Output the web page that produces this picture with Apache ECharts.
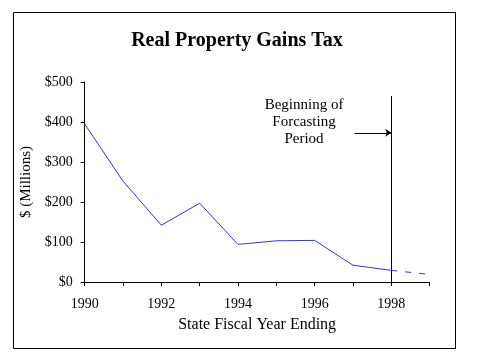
<!DOCTYPE html>
<html>
<head>
<meta charset="utf-8">
<script src="https://cdn.jsdelivr.net/npm/echarts@6/dist/echarts.min.js"></script>
<style>html,body{margin:0;padding:0;background:#fff;}#c{width:479px;height:359px;}</style>
</head>
<body>
<div id="c"></div>
<script>
var actualYears = [1990, 1991, 1992, 1993, 1994, 1995, 1996, 1997, 1998];
var actualValues = [395, 252, 142, 197, 94, 103, 104, 42, 29];
var forecastYears = [1998, 1999];
var forecastValues = [29, 19];
var yTickLabels = ['$0', '$100', '$200', '$300', '$400', '$500'];
var forecastStart = 1998;
var noteText = 'Beginning of\nForcasting\nPeriod';

var FONT = '"Liberation Serif", "Times New Roman", serif';
var chart = echarts.init(document.getElementById('c'), null, {renderer: 'canvas'});
function pairs(xs, ys) { return xs.map(function (x, i) { return [x, ys[i]]; }); }

chart.setOption({
  backgroundColor: '#fff',
  animation: false,
  title: {
    text: 'Real Property Gains Tax',
    left: 232, top: 26, textAlign: 'center',
    textStyle: {fontFamily: FONT, fontSize: 20, fontWeight: 'bold', color: '#000'}
  },
  grid: {left: 84.7, right: 49.4, top: 82, bottom: 77},
  xAxis: {
    type: 'value', min: 1990, max: 1999, interval: 1,
    name: 'State Fiscal Year Ending', nameLocation: 'middle', nameGap: 35,
    nameTextStyle: {fontFamily: FONT, fontSize: 16, color: '#000'},
    axisLine: {lineStyle: {color: '#000', width: 1}},
    axisTick: {show: true, length: 4, lineStyle: {color: '#000'}},
    axisLabel: {
      fontFamily: FONT, fontSize: 14, color: '#000', margin: 15,
      formatter: function (v) { return (v % 2 === 0) ? String(v) : ''; }
    },
    splitLine: {show: false}
  },
  yAxis: {
    type: 'value', min: 0, max: 500, interval: 100,
    name: '$ (Millions)', nameLocation: 'middle', nameGap: 44,
    nameTextStyle: {fontFamily: FONT, fontSize: 15, color: '#000'},
    axisLine: {show: true, lineStyle: {color: '#000', width: 1}},
    axisTick: {show: true, length: 4, lineStyle: {color: '#000'}},
    axisLabel: {
      fontFamily: FONT, fontSize: 14, color: '#000', margin: 12,
      formatter: function (v) { return yTickLabels[Math.round(v / 100)]; }
    },
    splitLine: {show: false}
  },
  series: [
    {
      type: 'line', data: pairs(actualYears, actualValues),
      symbol: 'none', lineStyle: {color: '#3434d0', width: 1},
      markLine: {
        silent: true, animation: false, symbol: ['none', 'none'],
        label: {show: false},
        lineStyle: {color: '#000', width: 1, type: 'solid'},
        data: [
          [{coord: [forecastStart, 0]}, {coord: [forecastStart, 465]}]
        ]
      }
    },
    {
      type: 'line', data: pairs(forecastYears, forecastValues),
      symbol: 'none', lineStyle: {color: '#3434d0', width: 1, type: [6, 8]},
      markLine: {
        silent: true, animation: false, symbol: ['none', 'arrow'], symbolSize: 6,
        label: {show: false},
        lineStyle: {color: '#000', width: 1, type: 'solid'},
        data: [
          [{coord: [1997.04, 373]}, {coord: [forecastStart, 373]}]
        ]
      }
    }
  ],
  graphic: [
    {type: 'rect', shape: {x: 13.5, y: 12.5, width: 442, height: 336},
     style: {fill: null, stroke: '#000', lineWidth: 1}, silent: true},
    {type: 'text', x: 304, y: 97,
     style: {text: noteText, fontFamily: FONT, fontSize: 15, lineHeight: 17,
             textAlign: 'center', fill: '#000'}}
  ]
});
</script>
</body>
</html>
